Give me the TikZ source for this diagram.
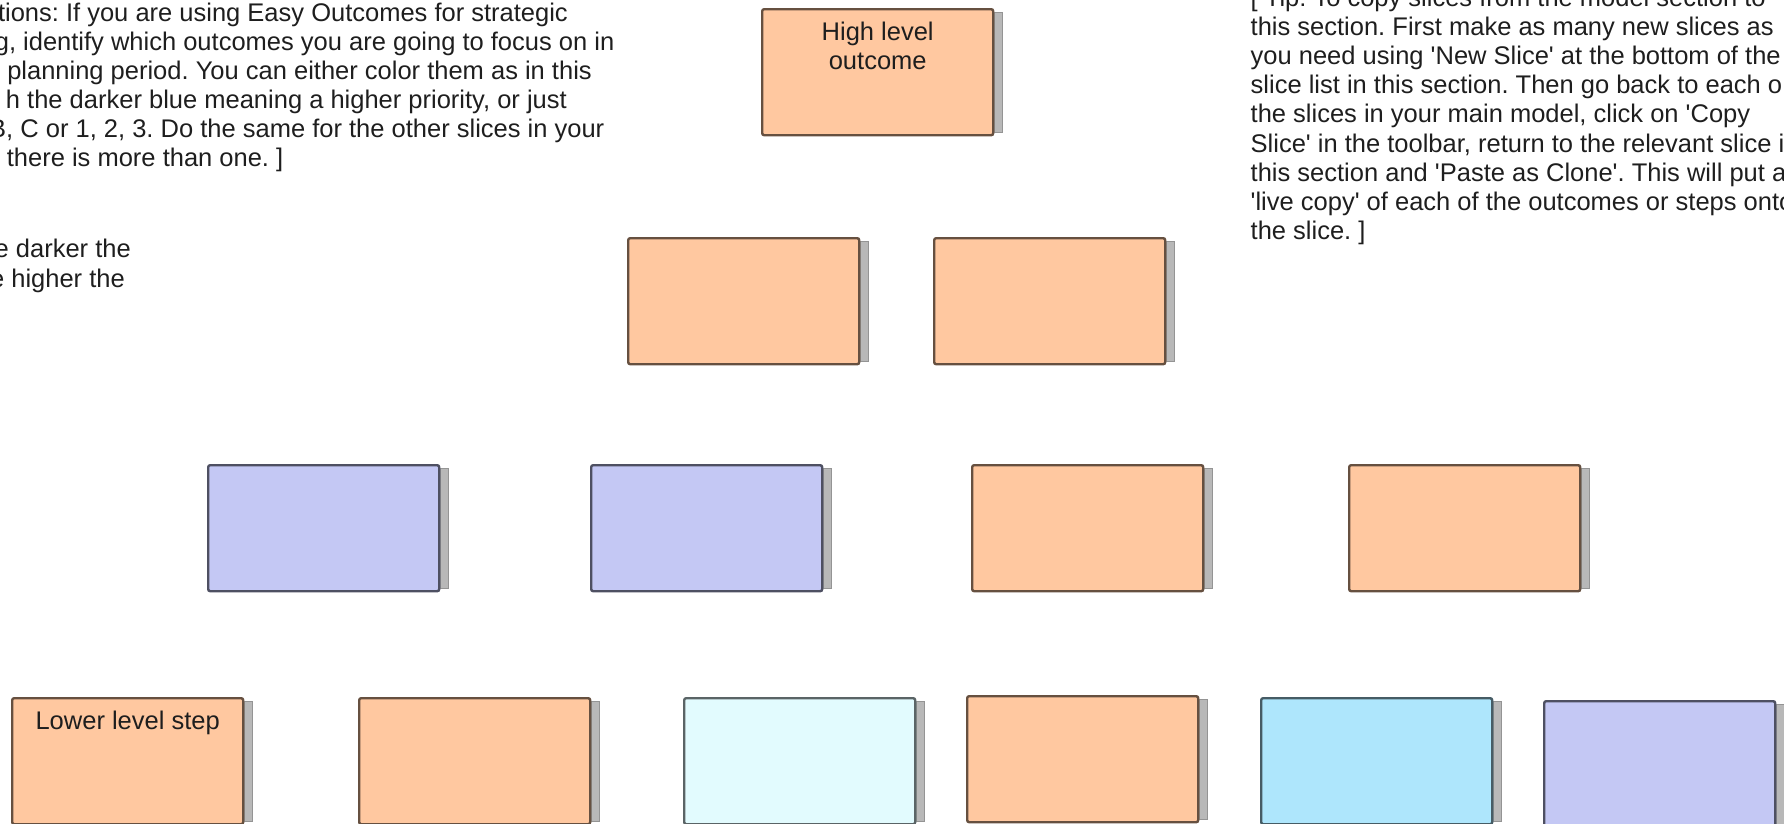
\documentclass[tikz,border=0pt]{standalone}
\usepackage{fontspec}
\setmainfont{Liberation Sans}
\usetikzlibrary{backgrounds}
\definecolor{peach}{RGB}{255,200,160}
\definecolor{lav}{RGB}{196,200,244}
\definecolor{palecyan}{RGB}{226,251,254}
\definecolor{sky}{RGB}{174,230,252}
\definecolor{txtcol}{RGB}{30,30,30}
\tikzset{
  outbox/.style={draw=#1!40!black, fill=#1, line width=2.4bp, rounded corners=2bp,
    minimum width=231bp, minimum height=126bp, anchor=north west, inner sep=0pt},
  shadowstrip/.style={fill=black!28, draw=black!42, line width=1bp},
  txt/.style={inner sep=0pt, text=txtcol, font=\fontsize{25.5bp}{29bp}\selectfont},
  lefttxt/.style={txt, anchor=base east},
  righttxt/.style={txt, anchor=base west},
  boxtxt/.style={txt, anchor=base, align=center},
}
\newcommand\shadowof[1]{\draw[shadowstrip] ([yshift=-4bp]#1.north east) rectangle ([xshift=8bp,yshift=4bp]#1.south east);}
\newcommand\sq{\textquotesingle}
\frenchspacing
\begin{document}
\frenchspacing
\begin{tikzpicture}[x=1bp,y=-1bp]
\useasboundingbox (0,0) rectangle (1784,824);
\begin{scope}
\clip (0,0) rectangle (1784,824);
% boxes
\node[outbox=peach] (hl) at (761,8) {};
\node[outbox=peach] (r2a) at (627,237) {};
\node[outbox=peach] (r2b) at (933,237) {};
\node[outbox=lav] (r3a) at (207,464) {};
\node[outbox=lav] (r3b) at (590,464) {};
\node[outbox=peach] (r3c) at (971,464) {};
\node[outbox=peach] (r3d) at (1348,464) {};
\node[outbox=peach] (r4a) at (11,697) {};
\node[outbox=peach] (r4b) at (358,697) {};
\node[outbox=palecyan] (r4c) at (683,697) {};
\node[outbox=peach] (r4d) at (966,695) {};
\node[outbox=sky] (r4e) at (1260,697) {};
\node[outbox=lav] (r4f) at (1543,700) {};
\begin{pgfonlayer}{background}
\foreach \n in {hl,r2a,r2b,r3a,r3b,r3c,r3d,r4a,r4b,r4c,r4d,r4e,r4f}{\shadowof{\n}}
\end{pgfonlayer}
% box labels
\node[boxtxt] (hltxt) at ([yshift=-61bp]hl.north) {High level\\outcome};
\node[boxtxt] (r4atxt) at ([yshift=-32bp]r4a.north) {Lower level step};
% left text block
\node[lefttxt] (l1) at (568,21.5) {tions: If you are using Easy Outcomes for strategic};
\node[lefttxt] (l2) at (614.5,50.5) {g, identify which outcomes you are going to focus on in};
\node[lefttxt] (l3) at (592,79.5) {planning period. You can either color them as in this};
\node[lefttxt] (l4) at (567,108.5) {h the darker blue meaning a higher priority, or just};
\node[lefttxt] (l5) at (604.5,137.5) {B, C or 1, 2, 3. Do the same for the other slices in your};
\node[lefttxt] (l6) at (283.5,166.5) {there is more than one. ]};
\node[lefttxt] (m1) at (131,257) {e darker the};
\node[lefttxt] (m2) at (125,287) {e higher the};
% right text block
\node[righttxt] (t0) at (1250.5,6.5) {[ Tip: To copy slices from the model section to};
\node[righttxt] (t1) at (1250.5,35.6) {this section. First make as many new slices as};
\node[righttxt] (t2) at (1250.5,64.7) {you need using \sq New Slice\sq{} at the bottom of the};
\node[righttxt] (t3) at (1250.5,93.8) {slice list in this section. Then go back to each o};
\node[righttxt] (t4) at (1250.5,122.9) {the slices in your main model, click on \sq Copy};
\node[righttxt] (t5) at (1250.5,152) {Slice\sq{} in the toolbar, return to the relevant slice i};
\node[righttxt] (t6) at (1250.5,181.1) {this section and \sq Paste as Clone\sq. This will put a};
\node[righttxt] (t7) at (1250.5,210.2) {\sq live copy\sq{} of each of the outcomes or steps onto};
\node[righttxt] (t8) at (1250.5,239.3) {the slice. ]};
\end{scope}
\end{tikzpicture}
\end{document}
